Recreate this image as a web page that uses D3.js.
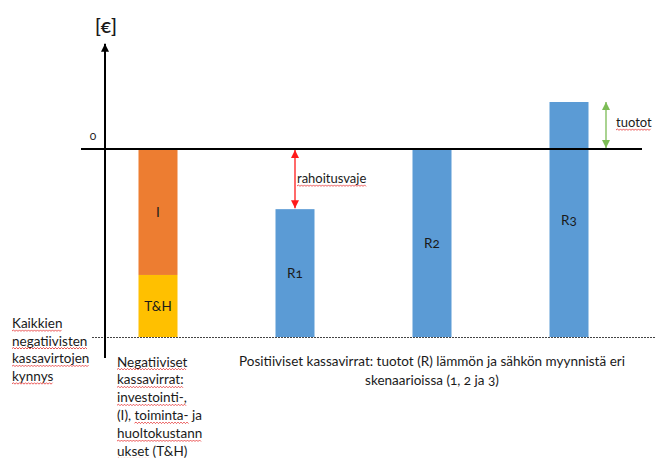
<!DOCTYPE html>
<html><head><meta charset="utf-8">
<script src="https://cdn.jsdelivr.net/npm/d3@7"></script>
<style>
body{margin:0;background:#fff}
text{font-family:Lato,"Open Sans",sans-serif;fill:#1a1a1a;font-variant-numeric:oldstyle-nums}
</style></head><body>
<svg id="c" width="655" height="458"></svg>
<script>
// ---- data ----
const categories = ["Kustannukset", "R1", "R2", "R3"];
const costSegments = [ {key:"I", value:67}, {key:"T&H", value:33} ];
const revenues = [ {key:"R1", value:68}, {key:"R2", value:100}, {key:"R3", value:125} ];
const threshold = -100;   // sum of negative cash flows
const yLabel = "[€]";
const zeroLabel = "0";
const leftNote = ["Kaikkien","negatiivisten","kassavirtojen","kynnys"];
const negNote = [
  [["Negatiiviset",1]],
  [["kassavirrat:",1]],
  [["investointi-,",1]],
  [["(I),",0],["toiminta-",1],["ja",0]],
  [["huoltokustann",1]],
  [["ukset",1],["(T&H)",0]]
];
const posNote = ["Positiiviset kassavirrat: tuotot (R) lämmön ja sähkön myynnistä eri","skenaarioissa (1, 2 ja 3)"];
const gapLabel = "rahoitusvaje";
const incomeLabel = "tuotot";

// ---- scales ----
const svg = d3.select("#c");
const y = d3.scaleLinear().domain([threshold, 0]).range([337, 149]);
const x = d3.scalePoint().domain(categories).range([158, 569]);
const bw = 39;
const colors = {"I":"#ED7D31","T&H":"#FFC000"};
const blue = "#5B9BD5";
const FS = 13.5;

// defs: arrowheads
const defs = svg.append("defs");
function marker(id, color, w, h){
  defs.append("marker").attr("id",id).attr("viewBox","0 0 10 10").attr("refX",10).attr("refY",5)
    .attr("markerWidth",w).attr("markerHeight",h).attr("markerUnits","userSpaceOnUse").attr("orient","auto-start-reverse")
    .append("path").attr("d","M0,0L10,5L0,10z").attr("fill",color);
}
marker("ak","#000",10,8);
marker("ar","#ff1a1a",9,8);
marker("ag","#7cbc55",9,8);

// cost stack
let acc = 0;
const stack = costSegments.map(d => { const s = {key:d.key, y0:-acc, y1:-(acc+d.value)}; acc += d.value; return s; });
const cx0 = x("Kustannukset");
svg.selectAll("rect.cost").data(stack).join("rect")
  .attr("x", cx0 - bw/2).attr("width", bw)
  .attr("y", d => y(d.y0)).attr("height", d => y(d.y1) - y(d.y0))
  .attr("fill", d => colors[d.key]);
svg.selectAll("text.cost").data(stack).join("text")
  .attr("x", cx0).attr("y", d => (y(d.y0)+y(d.y1))/2 + 5)
  .attr("text-anchor","middle").attr("font-size",FS).text(d => d.key);

// revenue bars
svg.selectAll("rect.rev").data(revenues).join("rect")
  .attr("x", d => x(d.key) - bw/2).attr("width", bw)
  .attr("y", d => y(threshold + d.value)).attr("height", d => y(threshold) - y(threshold + d.value))
  .attr("fill", blue);
const rl = svg.selectAll("text.rev").data(revenues).join("text")
  .attr("x", d => x(d.key)).attr("y", d => (y(threshold)+y(threshold+d.value))/2 + 5)
  .attr("text-anchor","middle").attr("font-size",FS);
rl.append("tspan").text(d => d.key[0]);
rl.append("tspan").text(d => d.key.slice(1));

// threshold dashed line
svg.append("line").attr("x1",92).attr("x2",655).attr("y1",y(threshold)+0.5).attr("y2",y(threshold)+0.5)
  .attr("stroke","#444").attr("stroke-width",1).attr("stroke-dasharray","2,1");

// zero line
svg.append("line").attr("x1",81).attr("x2",642).attr("y1",y(0)).attr("y2",y(0))
  .attr("stroke","#000").attr("stroke-width",1.8);
// y axis
svg.append("line").attr("x1",105).attr("x2",105).attr("y1",358).attr("y2",y(56))
  .attr("stroke","#000").attr("stroke-width",2).attr("marker-end","url(#ak)");
svg.append("text").attr("x",106).attr("y",33).attr("text-anchor","middle").attr("font-size",19).attr("font-weight",600).text(yLabel);
svg.append("text").attr("x",93).attr("y",y(0)-9).attr("text-anchor","middle").attr("font-size",12).attr("fill","#333").text(zeroLabel);

// gap arrow (R1)
const r1 = revenues[0];
const ax1 = x("R1");
svg.append("line").attr("x1",ax1).attr("x2",ax1).attr("y1",y(0)+1).attr("y2",y(threshold+r1.value)-1)
  .attr("stroke","#ff1a1a").attr("stroke-width",1.3)
  .attr("marker-start","url(#ar)").attr("marker-end","url(#ar)");
// income arrow (R3)
const r3 = revenues[2];
const ax3 = x("R3") + 37;
svg.append("line").attr("x1",ax3).attr("x2",ax3).attr("y1",y(threshold+r3.value)).attr("y2",y(0)-1)
  .attr("stroke","#7cbc55").attr("stroke-width",1.3)
  .attr("marker-start","url(#ag)").attr("marker-end","url(#ag)");

// wavy underline helper
function wavy(x0, x1, yy){
  let d = `M${x0},${yy}`; let up = true;
  for (let xx = x0 + 1.5; xx <= x1; xx += 1.5){ d += `L${xx},${up ? yy-1.1 : yy+0.4}`; up = !up; }
  svg.append("path").attr("d", d).attr("fill","none").attr("stroke","#e53030").attr("stroke-width",0.8);
}
function lineWithWords(words, xx, yy, fs){
  const t = svg.append("text").attr("x", xx).attr("y", yy).attr("font-size", fs);
  const str = words.map(w => w[0]).join(" ");
  t.text(str);
  let idx = 0;
  const node = t.node();
  words.forEach(w => {
    if (w[1]) {
      const sx = node.getStartPositionOfChar(idx).x;
      const len = node.getSubStringLength(idx, w[0].length);
      wavy(sx, sx + len, yy + 3);
    }
    idx += w[0].length + 1;
  });
}

// notes
leftNote.forEach((s,i) => lineWithWords([[s,1]], 12, 328 + i*17.6, FS));
negNote.forEach((ws,i) => lineWithWords(ws, 117, 366.5 + i*17.9, FS));
posNote.forEach((s,i) => svg.append("text").attr("x",432).attr("y",366 + i*19).attr("text-anchor","middle").attr("font-size",FS).text(s));
lineWithWords([[gapLabel,1]], 297, 183, 13);
lineWithWords([[incomeLabel,1]], 616, 127, 13);
</script></body></html>
